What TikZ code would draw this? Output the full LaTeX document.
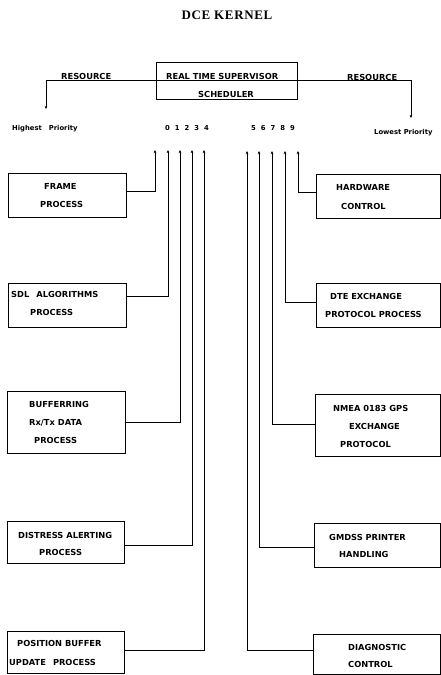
\documentclass[tikz,border=0pt]{standalone}
\usepackage{fontspec}
\usetikzlibrary{arrows.meta}
\newfontfamily\boxfont{DejaVu Sans}
\newfontfamily\titlefont{Liberation Serif}[LetterSpace=5]
\tikzset{
  box/.style={draw, line width=0.8pt, inner sep=0pt, rectangle},
  txt/.style={anchor=base west, inner sep=0pt, font=\boxfont\bfseries\fontsize{8.3}{9}\selectfont},
  small/.style={anchor=base west, inner sep=0pt, font=\boxfont\bfseries\fontsize{6.8}{7}\selectfont},
  ln/.style={line width=0.7pt},
  arr/.style={line width=0.7pt, -{Stealth[length=3.2pt,width=2.8pt]}},
}
\begin{document}
\begin{tikzpicture}[x=1pt,y=-1pt]
\useasboundingbox (0,0) rectangle (441,675);
% title
\node[inner sep=0pt, font=\titlefont\bfseries\fontsize{13}{14}\selectfont] (title) at (227,15) {DCE KERNEL};
% supervisor
\node[box, minimum width=141pt, minimum height=37pt] (sup) at (226.5,80.5) {};
\node[txt] (supt) at (166,79) {REAL TIME SUPERVISOR};
\node[txt] (scht) at (198,97) {SCHEDULER};
\node[txt] (resl) at (61,79) {RESOURCE};
\node[txt] (resr) at (347,80) {RESOURCE};
\coordinate (lend) at (46,109);
\coordinate (rend) at (411,118);
\draw[ln] (sup.west) -- (sup.east);
\draw[arr] (sup.west) -| (lend);
\draw[arr] (sup.east) -| (rend);
% priority labels
\node[small] (hp) at (12,130) {Highest\hspace{7pt}Priority};
\node[small] (lp) at (374,134) {Lowest Priority};
\node[small] (n04) at (165,130) {0\hspace{5pt}1\hspace{5pt}2\hspace{5pt}3\hspace{5pt}4};
\node[small] (n59) at (251,130) {5\hspace{5pt}6\hspace{5pt}7\hspace{5pt}8\hspace{5pt}9};
% arrow tops
\coordinate (p0) at (155,150);
\coordinate (p1) at (168,150);
\coordinate (p2) at (180,150);
\coordinate (p3) at (192,150);
\coordinate (p4) at (204,150);
\coordinate (p5) at (247,151);
\coordinate (p6) at (259,151);
\coordinate (p7) at (272,151);
\coordinate (p8) at (285,151);
\coordinate (p9) at (298,151);
% left boxes
\node[box, minimum width=118pt, minimum height=44pt] (frame) at (67,195) {};
\node[txt] at (44,189) {FRAME};
\node[txt] at (40,207) {PROCESS};
\node[box, minimum width=118pt, minimum height=44pt] (sdl) at (67,305) {};
\node[txt] at (11,297) {SDL\hspace{7pt}ALGORITHMS};
\node[txt] at (30,315) {PROCESS};
\node[box, minimum width=118pt, minimum height=62pt] (buf) at (66,422) {};
\node[txt] at (29,407) {BUFFERRING};
\node[txt] at (29,425) {Rx/Tx DATA};
\node[txt] at (34,443) {PROCESS};
\node[box, minimum width=117pt, minimum height=42pt] (dist) at (65.5,542) {};
\node[txt] at (18,538) {DISTRESS ALERTING};
\node[txt] at (39,555) {PROCESS};
\node[box, minimum width=117pt, minimum height=42pt] (pos) at (65.5,652) {};
\node[txt] at (17,646) {POSITION BUFFER};
\node[txt] at (9,665) {UPDATE\hspace{7pt}PROCESS};
% right boxes
\node[box, minimum width=124pt, minimum height=44pt] (hw) at (378,196) {};
\node[txt] at (336,190) {HARDWARE};
\node[txt] at (341,209) {CONTROL};
\node[box, minimum width=124pt, minimum height=44pt] (dte) at (378,305) {};
\node[txt] at (330,299) {DTE EXCHANGE};
\node[txt] at (325,317) {PROTOCOL PROCESS};
\node[box, minimum width=125pt, minimum height=62pt] (nmea) at (377.5,425) {};
\node[txt] at (333,411) {NMEA 0183 GPS};
\node[txt] at (349,429) {EXCHANGE};
\node[txt] at (340,447) {PROTOCOL};
\node[box, minimum width=126pt, minimum height=44pt] (gm) at (377,545) {};
\node[txt] at (329,540) {GMDSS PRINTER};
\node[txt] at (339,557) {HANDLING};
\node[box, minimum width=127pt, minimum height=40pt] (diag) at (376.5,654.5) {};
\node[txt] at (348,650) {DIAGNOSTIC};
\node[txt] at (348,667) {CONTROL};
% junctions
\coordinate (j0) at (155,191);
\coordinate (j1) at (168,296);
\coordinate (j2) at (180,422);
\coordinate (j3) at (192,545);
\coordinate (j4) at (204,650);
\coordinate (j5) at (247,650);
\coordinate (j6) at (259,547);
\coordinate (j7) at (272,424);
\coordinate (j8) at (285,302);
\coordinate (j9) at (298,192);
\draw[arr] (frame.east |- j0) -- (j0) -- (p0);
\draw[arr] (sdl.east |- j1) -- (j1) -- (p1);
\draw[arr] (buf.east |- j2) -- (j2) -- (p2);
\draw[arr] (dist.east |- j3) -- (j3) -- (p3);
\draw[arr] (pos.east |- j4) -- (j4) -- (p4);
\draw[arr] (diag.west |- j5) -- (j5) -- (p5);
\draw[arr] (gm.west |- j6) -- (j6) -- (p6);
\draw[arr] (nmea.west |- j7) -- (j7) -- (p7);
\draw[arr] (dte.west |- j8) -- (j8) -- (p8);
\draw[arr] (hw.west |- j9) -- (j9) -- (p9);
\end{tikzpicture}
\end{document}
